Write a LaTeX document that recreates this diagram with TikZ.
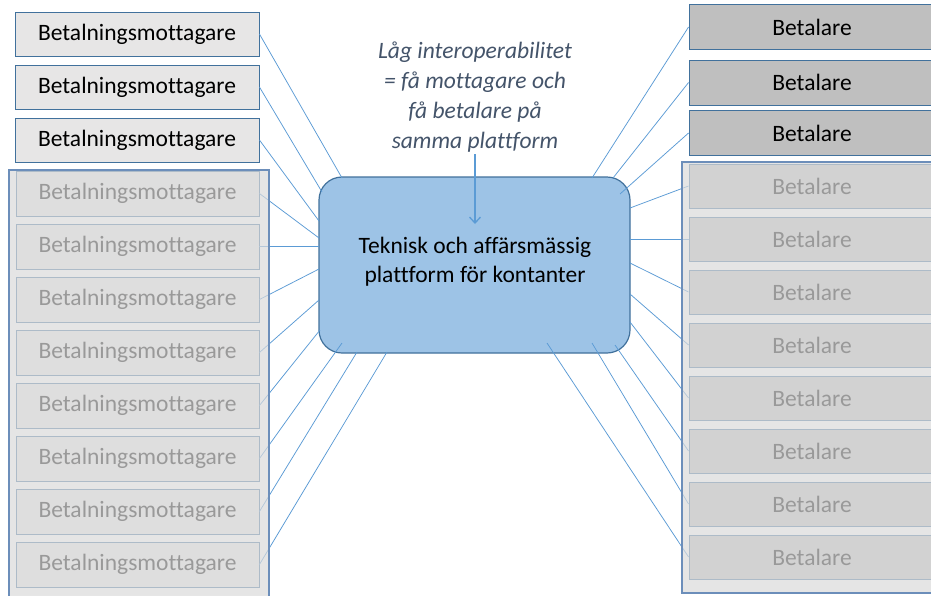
\documentclass[tikz,border=0pt]{standalone}
\usepackage{fontspec}
\setmainfont[Ligatures=NoCommon]{Carlito}
\usetikzlibrary{arrows.meta}
\definecolor{boxfill}{HTML}{E7E6E6}
\definecolor{darkfill}{HTML}{BFBFBF}
\definecolor{boxborder}{HTML}{41719C}
\definecolor{platfill}{HTML}{9DC3E6}
\definecolor{linkblue}{HTML}{5B9BD5}
\definecolor{notetext}{HTML}{44546A}
\definecolor{veil}{RGB}{219,219,219}
\definecolor{veilborder}{RGB}{108,142,186}
\begin{document}
\begin{tikzpicture}[x=1pt,y=-1pt,
  every node/.style={font=\fontsize{23.5}{29}\selectfont},
  lbox/.style={draw=boxborder, line width=0.9pt, fill=boxfill, minimum width=244pt, minimum height=44pt, inner sep=0pt},
  rbox/.style={draw=boxborder, line width=0.9pt, fill=darkfill, minimum width=246pt, minimum height=45pt, inner sep=0pt},
  link/.style={draw=linkblue, line width=0.75pt},
  veilbox/.style={fill=veil, fill opacity=0.7, draw=veilborder, line width=1.4pt},
  platbox/.style={draw=boxborder, line width=1.2pt, fill=platfill, rounded corners=23pt, minimum width=311pt, minimum height=176pt, inner sep=0pt}
]
\clip (0,0) rectangle (931,595);
\fill[white] (0,0) rectangle (931,595);

% left boxes
\node[lbox] (l1) at (137,34) {Betalningsmottagare};
\node[lbox] (l2) at (137,87) {Betalningsmottagare};
\node[lbox] (l3) at (137,140) {Betalningsmottagare};
\foreach \i in {1,...,8}{
  \node[lbox, minimum height=45pt, minimum width=243pt] (lf\i) at (137.5,{193.5+53*(\i-1)}) {Betalningsmottagare};
}
% right boxes
\node[rbox] (r1) at (812,27) {Betalare};
\node[rbox] (r2) at (812,82.5) {Betalare};
\node[rbox] (r3) at (812,133) {Betalare};
\foreach \i in {1,...,8}{
  \node[rbox, minimum height=44pt] (rf\i) at (812,{186+53*(\i-1)}) {Betalare};
}

% platform
\node[platbox] (plat) at (474.5,265) {};
\node[align=center] (plattext) at (475,262) {Teknisk och affärsmässig\\plattform för kontanter};

% connector end points on the platform
\coordinate (pl1) at (342,178);
\coordinate (pl2) at (322,192);
\coordinate (pl3) at (319,221);
\coordinate (pl4) at (319,238);
\coordinate (pl5) at (319,246.5);
\coordinate (pl6) at (319,269);
\coordinate (pl7) at (319,300);
\coordinate (pl8) at (320,330);
\coordinate (pl9) at (342,343);
\coordinate (pl10) at (357,352);
\coordinate (pl11) at (387,352);

\coordinate (pr1) at (592,178);
\coordinate (pr2) at (613,178);
\coordinate (pr3) at (620,194);
\coordinate (pr4) at (630,208);
\coordinate (pr5) at (630,239);
\coordinate (pr6) at (630,263);
\coordinate (pr7) at (630,294);
\coordinate (pr8) at (630,322);
\coordinate (pr9) at (615,345);
\coordinate (pr10) at (592,343);
\coordinate (pr11) at (547,343);

\draw[link] (l1.east) -- (pl1);
\draw[link] (l2.east) -- (pl2);
\draw[link] (l3.east) -- (pl3);
\foreach \i [evaluate=\i as \j using int(\i+3)] in {1,...,8}{
  \draw[link] (lf\i.east) -- (pl\j);
}
\draw[link] (r1.west) -- (pr1);
\draw[link] (r2.west) -- (pr2);
\draw[link] (r3.west) -- (pr3);
\foreach \i [evaluate=\i as \j using int(\i+3)] in {1,...,8}{
  \draw[link] (rf\i.west) -- (pr\j);
}

% veils over the faded boxes
\draw[veilbox] (9,170) rectangle (269,610);
\draw[veilbox] (682,162) rectangle (945,593);

% note and arrow
\node[align=center, text=notetext, font=\itshape\fontsize{23.5}{30}\selectfont, inner sep=2pt] (note) at (475,97)
  {Låg interoperabilitet\\= få mottagare och\\få betalare på\\samma plattform};
\coordinate (arrtip) at (475,224);
\draw[linkblue, line width=1.3pt, -{Straight Barb[length=6pt,width=11pt]}] (note.south) -- (arrtip);
\end{tikzpicture}
\end{document}
